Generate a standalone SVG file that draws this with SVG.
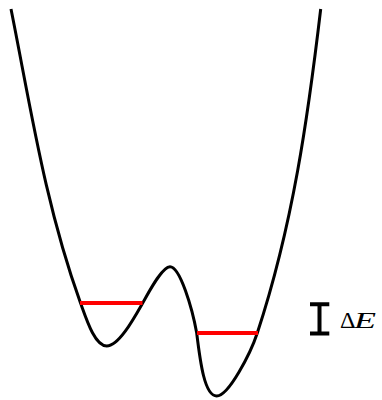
<svg xmlns="http://www.w3.org/2000/svg" width="382" height="400" viewBox="0 0 382 400">
  <style>
    .curve { fill: none; stroke: #000; stroke-width: 3; stroke-linejoin: round; }
    .level { stroke: #ff0000; stroke-width: 4; }
    .bar { stroke: #000; stroke-width: 4; fill: none; }
    .lbl { font-family: "Liberation Serif", "DejaVu Serif", serif; font-size: 24px; fill: #000; }
  </style>
  <rect width="382" height="400" fill="#fff"/>
  <g id="potential">
    <path class="curve" d="M11,9 C30.6,107 45.2,205 80.5,303 C86.3,319 94.7,346 106.7,346 C118.7,346 133.6,319 142.7,303 C148.4,293 162,266.7 170,266.7 C180,266.7 192.2,308 196.7,333 C200.3,363 204.7,396 216.7,396 C228.7,396 250.7,353 257.3,333 C292.9,225 308,117 320.7,9"/>
  </g>
  <g id="level-left">
    <line class="level" x1="80" y1="303" x2="142.5" y2="303"/>
  </g>
  <g id="level-right">
    <line class="level" x1="197" y1="333" x2="258" y2="333"/>
  </g>
  <g id="delta-e">
    <path class="bar" d="M310,304.2 H329.3 M319.5,304.2 V333.5 M310,333.5 H329.3"/>
    <text class="lbl" x="340" y="327.7">Δ</text>
    <text class="lbl" x="354" y="327.7" font-style="italic" textLength="22" lengthAdjust="spacingAndGlyphs">E</text>
  </g>
</svg>
